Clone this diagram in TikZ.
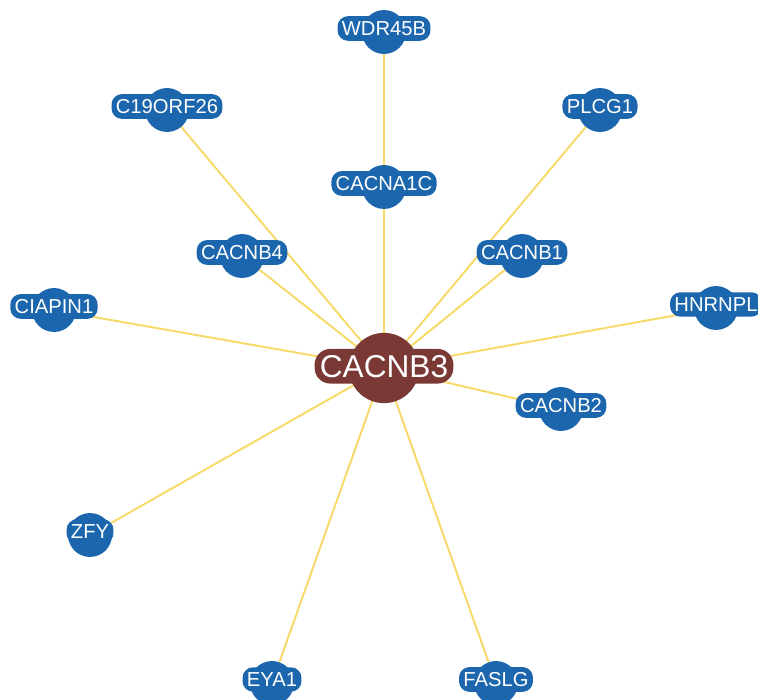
\documentclass[tikz,border=0pt]{standalone}
\usepackage{fontspec}
\setmainfont{Liberation Sans}
\usepackage{tikz}
\usetikzlibrary{backgrounds}
\definecolor{geneblue}{HTML}{1B66AD}
\definecolor{hubbrown}{HTML}{7A3935}
\definecolor{linkgold}{HTML}{F7D967}

\begin{document}
\begin{tikzpicture}[
  x=0.02cm,y=-0.02cm,
  gene/.style={circle,fill=geneblue,minimum size=25pt,inner sep=0pt},
  hub/.style={circle,fill=hubbrown,minimum size=40pt,inner sep=0pt},
  genetag/.style={fill=geneblue,rounded corners=6pt,text=white,inner xsep=2.5pt,
                  inner ysep=3pt,font=\fontsize{11.5}{13}\selectfont},
  hubtag/.style={fill=hubbrown,rounded corners=9pt,text=white,inner xsep=3pt,
                 inner ysep=3.5pt,font=\fontsize{18}{20}\selectfont},
  link/.style={draw=linkgold,line width=1.1pt}
]
\useasboundingbox (0,0) rectangle (758,700);
% centre gene
\node[hub] (cacnb3) at (384,368) {};
% neighbours: name/x/y/label
\foreach \n/\x/\y/\t in {
    wdr45b/384/32/WDR45B, c19orf26/167/110/C19ORF26, plcg1/600/110/PLCG1,
    cacna1c/384/187/CACNA1C, cacnb4/242/256/CACNB4, cacnb1/522/256/CACNB1,
    ciapin1/54/310/CIAPIN1, hnrnpl/716/308/HNRNPL, cacnb2/561/409/CACNB2,
    zfy/90/535/ZFY, eya1/272/683/EYA1, faslg/496/683/FASLG} {
  \node[gene] (\n) at (\x,\y) {};
  \begin{scope}[on background layer]
    \draw[link] (cacnb3.center) -- (\n.center);
  \end{scope}
  \node[genetag] (\n-tag) at ([yshift=2pt]\n.center) {\t};
}
\node[hubtag] (cacnb3-tag) at ([yshift=1pt]cacnb3.center) {CACNB3};
\end{tikzpicture}
\end{document}
